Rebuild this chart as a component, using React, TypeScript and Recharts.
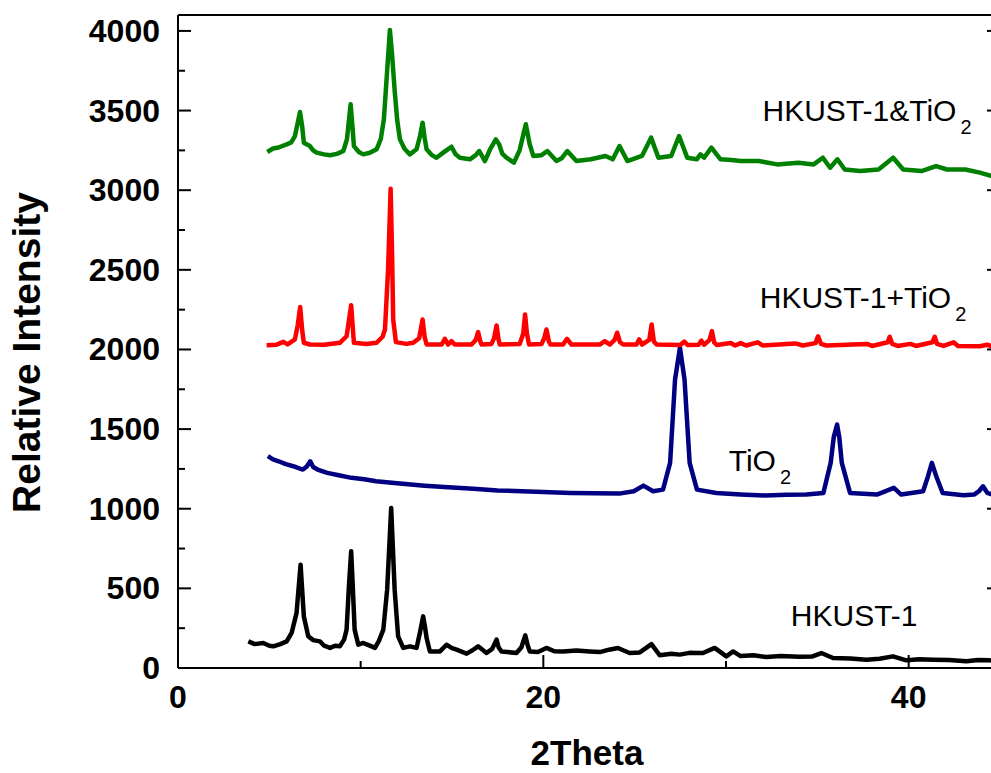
import { LineChart, Line, XAxis, YAxis, ReferenceDot } from "recharts";

// ---- axis ticks ----
const xTicks = [0, 10, 20, 30, 40];
const xTickLabels = [0, 20, 40];
const yTicks = [0, 250, 500, 750, 1000, 1250, 1500, 1750, 2000, 2250, 2500, 2750, 3000, 3250, 3500, 3750, 4000];
const yTickLabels = [0, 500, 1000, 1500, 2000, 2500, 3000, 3500, 4000];

// ---- XRD patterns, [2theta, intensity] ----
const hkust1: [number, number][] = [
  [3.85, 167], [4.2, 150], [4.67, 157], [5.0, 140], [5.22, 136], [5.6, 150], [5.95, 167], [6.22, 220],
  [6.49, 346], [6.71, 649], [6.89, 324], [7.13, 199], [7.4, 175], [7.77, 167], [8.0, 140], [8.32, 126],
  [8.6, 140], [8.86, 136], [9.1, 180], [9.23, 241], [9.35, 500], [9.48, 733], [9.58, 480], [9.67, 241],
  [9.87, 146], [10.14, 157], [10.5, 140], [10.78, 126], [11.0, 170], [11.24, 241], [11.45, 492], [11.67, 1005],
  [11.86, 492], [12.05, 199], [12.33, 126], [12.69, 136], [13.06, 126], [13.24, 220], [13.42, 324], [13.52, 260],
  [13.61, 188], [13.79, 104], [14.34, 104], [14.7, 146], [15.0, 125], [15.25, 115], [15.8, 90], [16.1, 110],
  [16.43, 136], [16.89, 94], [17.2, 120], [17.44, 178], [17.55, 130], [17.71, 104], [18.53, 94], [18.8, 130],
  [19.01, 205], [19.15, 140], [19.26, 104], [19.7, 100], [20.17, 126], [20.6, 105], [21.08, 104], [21.8, 110],
  [22.54, 104], [23.09, 100], [23.6, 115], [24.09, 126], [24.4, 110], [24.73, 94], [25.28, 98], [25.92, 150],
  [26.37, 80], [27.0, 90], [27.47, 84], [28.0, 95], [28.56, 94], [28.74, 94], [29.38, 126], [30.02, 73],
  [30.39, 104], [30.8, 75], [31.5, 80], [32.21, 69], [33.0, 75], [34.0, 70], [34.7, 72], [35.22, 94],
  [35.86, 63], [36.8, 60], [37.68, 52], [38.4, 58], [39.14, 73], [39.87, 48], [40.6, 55], [41.33, 52],
  [42.2, 50], [43.16, 42], [43.8, 50], [44.43, 48], [45, 45],
];

const tio2: [number, number][] = [
  [4.92, 1330], [5.2, 1310], [5.51, 1298], [5.9, 1280], [6.31, 1267], [6.6, 1255], [6.84, 1246], [7.05, 1265],
  [7.24, 1298], [7.4, 1262], [7.64, 1246], [8.17, 1225], [8.8, 1210], [9.5, 1194], [10.2, 1185], [10.84, 1173],
  [12.0, 1160], [13.5, 1145], [14.8, 1135], [16.16, 1125], [17.5, 1115], [18.82, 1110], [20.0, 1105], [21.48, 1099],
  [22.8, 1097], [24.15, 1095], [24.95, 1110], [25.48, 1145], [26.01, 1110], [26.55, 1120], [26.94, 1288], [27.21, 1811],
  [27.48, 2011], [27.73, 1811], [28.01, 1288], [28.41, 1120], [29.47, 1099], [30.8, 1090], [32.14, 1083], [33.3, 1088],
  [34.4, 1089], [35.33, 1099], [35.73, 1288], [35.9, 1450], [36.08, 1529], [36.2, 1450], [36.34, 1288], [36.79, 1099],
  [38.26, 1089], [39.19, 1131], [39.59, 1089], [40.79, 1110], [41.06, 1204], [41.27, 1288], [41.51, 1204], [41.86, 1099],
  [43.0, 1085], [43.58, 1089], [43.85, 1110], [44.07, 1141], [44.3, 1100], [44.6, 1089], [45, 1080],
];

const hkustPlusTio2: [number, number][] = [
  [4.85, 2027], [5.4, 2030], [5.77, 2048], [6.0, 2032], [6.4, 2063], [6.55, 2150], [6.69, 2266], [6.8, 2120],
  [6.89, 2042], [7.22, 2031], [8.0, 2030], [8.86, 2042], [9.23, 2083], [9.38, 2200], [9.48, 2278], [9.56, 2150],
  [9.63, 2042], [10.3, 2035], [10.87, 2042], [11.2, 2080], [11.33, 2125], [11.5, 2500], [11.64, 3009], [11.72, 2600],
  [11.78, 2188], [11.93, 2046], [12.5, 2035], [12.88, 2042], [13.2, 2070], [13.39, 2188], [13.5, 2080], [13.61, 2031],
  [14.43, 2031], [14.61, 2067], [14.79, 2031], [14.97, 2052], [15.15, 2031], [16.07, 2031], [16.3, 2060], [16.43, 2109],
  [16.55, 2050], [16.62, 2031], [17.16, 2035], [17.3, 2070], [17.44, 2151], [17.55, 2060], [17.62, 2031], [18.71, 2035],
  [18.9, 2100], [19.0, 2220], [19.1, 2100], [19.22, 2031], [19.9, 2035], [20.05, 2070], [20.17, 2125], [20.3, 2050],
  [20.39, 2031], [21.08, 2031], [21.3, 2067], [21.54, 2031], [23.09, 2031], [23.36, 2052], [23.64, 2031], [23.9, 2060],
  [24.04, 2105], [24.2, 2045], [24.37, 2031], [25.1, 2031], [25.25, 2063], [25.4, 2031], [25.8, 2060], [25.93, 2157],
  [26.05, 2050], [26.2, 2031], [27.5, 2028], [27.72, 2050], [27.9, 2028], [28.5, 2030], [28.65, 2055], [28.8, 2030],
  [29.1, 2060], [29.23, 2115], [29.35, 2045], [29.5, 2028], [30.26, 2040], [30.5, 2025], [30.8, 2040], [31.1, 2025],
  [31.74, 2045], [32.0, 2025], [33.8, 2038], [34.2, 2025], [34.9, 2040], [35.04, 2083], [35.2, 2035], [35.5, 2025],
  [37.72, 2035], [38.0, 2022], [38.85, 2045], [38.96, 2080], [39.1, 2035], [39.4, 2022], [40.09, 2035], [40.4, 2022],
  [41.3, 2045], [41.43, 2080], [41.55, 2035], [41.9, 2022], [42.46, 2045], [42.7, 2022], [43.9, 2020], [44.3, 2030],
  [44.6, 2018], [45, 2015],
];

const hkustAndTio2: [number, number][] = [
  [4.89, 3240], [5.2, 3262], [5.5, 3268], [5.95, 3288], [6.2, 3300], [6.4, 3340], [6.55, 3420], [6.68, 3491],
  [6.8, 3400], [6.89, 3298], [7.22, 3277], [7.4, 3250], [7.59, 3236], [8.0, 3225], [8.32, 3219], [8.7, 3228],
  [9.05, 3246], [9.25, 3320], [9.45, 3539], [9.55, 3400], [9.63, 3277], [9.9, 3240], [10.14, 3225], [10.5, 3235],
  [10.87, 3257], [11.1, 3320], [11.27, 3445], [11.45, 3750], [11.6, 4006], [11.72, 3850], [11.87, 3613], [12.0, 3440],
  [12.15, 3319], [12.4, 3260], [12.69, 3225], [13.06, 3257], [13.25, 3340], [13.39, 3424], [13.5, 3330], [13.61, 3257],
  [13.9, 3220], [14.15, 3204], [14.52, 3236], [14.75, 3255], [14.97, 3273], [15.2, 3225], [15.43, 3204], [15.98, 3194],
  [16.3, 3220], [16.49, 3246], [16.8, 3183], [17.1, 3260], [17.4, 3319], [17.58, 3288], [17.75, 3230], [17.98, 3204],
  [18.39, 3173], [18.7, 3250], [19.04, 3414], [19.25, 3290], [19.45, 3215], [19.9, 3220], [20.22, 3246], [20.72, 3183],
  [21.0, 3200], [21.31, 3246], [21.81, 3183], [22.6, 3194], [23.4, 3215], [23.8, 3194], [24.17, 3277], [24.6, 3183],
  [25.4, 3215], [25.9, 3330], [26.3, 3204], [27.0, 3215], [27.43, 3340], [27.88, 3204], [28.4, 3194], [28.6, 3225],
  [28.8, 3204], [29.2, 3267], [29.7, 3194], [30.3, 3190], [30.8, 3183], [31.8, 3183], [32.8, 3162], [33.96, 3173],
  [34.8, 3162], [35.3, 3204], [35.7, 3141], [36.1, 3194], [36.5, 3130], [37.35, 3120], [38.35, 3130], [39.15, 3204],
  [39.7, 3130], [40.7, 3120], [41.5, 3151], [42.1, 3130], [43.1, 3130], [43.9, 3110], [44.5, 3090], [45, 3085],
];

const FONT = '"Liberation Sans", Arial, Helvetica, sans-serif';
const MAJOR_LEN = 13;
const MINOR_LEN = 7;

const toRows = (pts: [number, number][]) => pts.map(([x, y]) => ({ x, y }));

const series = [
  { key: "hkust1", color: "#000000", rows: toRows(hkust1) },
  { key: "tio2", color: "#000080", rows: toRows(tio2) },
  { key: "plus", color: "#ff0000", rows: toRows(hkustPlusTio2) },
  { key: "and", color: "#008000", rows: toRows(hkustAndTio2) },
];

// text labels next to the curves, anchored in data coordinates
const curveLabels = [
  { text: "HKUST-1&TiO", sub: "2", x: 32.0, y: 3432 },
  { text: "HKUST-1+TiO", sub: "2", x: 31.85, y: 2258 },
  { text: "TiO", sub: "2", x: 30.15, y: 1235 },
  { text: "HKUST-1", sub: "", x: 33.55, y: 261 },
];

function LeftTick({ x, y, payload }: any) {
  const major = yTickLabels.includes(payload.value);
  return (
    <g>
      <line x1={x} y1={y} x2={x + (major ? MAJOR_LEN : MINOR_LEN)} y2={y} stroke="#000" strokeWidth={2} />
      {major && (
        <text x={x - 18} y={y + 11} textAnchor="end" fontFamily={FONT} fontWeight="bold" fontSize={32} fill="#000">
          {payload.value}
        </text>
      )}
    </g>
  );
}

function RightTick({ x, y, payload }: any) {
  const major = yTickLabels.includes(payload.value);
  return <line x1={x} y1={y} x2={x - (major ? MAJOR_LEN : MINOR_LEN)} y2={y} stroke="#000" strokeWidth={2} />;
}

function BottomTick({ x, y, payload }: any) {
  const major = xTickLabels.includes(payload.value);
  return (
    <g>
      <line x1={x} y1={y} x2={x} y2={y - (major ? MAJOR_LEN : MINOR_LEN)} stroke="#000" strokeWidth={2} />
      {major && (
        <text x={x} y={y + 40} textAnchor="middle" fontFamily={FONT} fontWeight="bold" fontSize={32} fill="#000">
          {payload.value}
        </text>
      )}
    </g>
  );
}

function TopTick({ x, y, payload }: any) {
  const major = xTickLabels.includes(payload.value);
  return <line x1={x} y1={y} x2={x} y2={y + (major ? MAJOR_LEN : MINOR_LEN)} stroke="#000" strokeWidth={2} />;
}

function XTitle({ viewBox }: any) {
  return (
    <text
      x={viewBox.x + viewBox.width / 2 - 2}
      y={viewBox.y + 97}
      textAnchor="middle"
      fontFamily={FONT}
      fontWeight="bold"
      fontSize={35}
      fill="#000"
    >
      2Theta
    </text>
  );
}

function YTitle({ viewBox }: any) {
  const cx = viewBox.x + 40;
  const cy = viewBox.y + viewBox.height / 2 + 11;
  return (
    <text
      x={cx}
      y={cy}
      transform={`rotate(-90 ${cx} ${cy})`}
      textAnchor="middle"
      fontFamily={FONT}
      fontWeight="bold"
      fontSize={39}
      fill="#000"
    >
      Relative Intensity
    </text>
  );
}

function CurveLabel({ viewBox, text, sub }: any) {
  return (
    <text x={viewBox.x} y={viewBox.y} fontFamily={FONT} fontSize={30} fill="#000">
      {text}
      {sub && (
        <tspan dx={4} dy={13} fontSize={20}>
          {sub}
        </tspan>
      )}
    </text>
  );
}

export default function App() {
  const axisLine = { stroke: "#000", strokeWidth: 2 };
  return (
    <div
      style={{
        position: "absolute",
        left: 0,
        top: 0,
        width: 991,
        height: 773,
        overflow: "hidden",
        background: "#fff",
      }}
    >
      <LineChart width={1010} height={773} margin={{ top: 14, right: 9, bottom: 0, left: 0 }}>
        <XAxis
          dataKey="x"
          type="number"
          domain={[0, 45]}
          ticks={xTicks}
          interval={0}
          allowDataOverflow
          height={105}
          tickSize={0}
          tickMargin={0}
          tickLine={false}
          axisLine={axisLine}
          tick={<BottomTick />}
          label={{ content: (p: any) => <XTitle {...p} /> }}
        />
        <XAxis
          xAxisId="top"
          orientation="top"
          type="number"
          domain={[0, 45]}
          ticks={xTicks}
          interval={0}
          allowDataOverflow
          height={1}
          tickSize={0}
          tickMargin={0}
          tickLine={false}
          axisLine={axisLine}
          tick={<TopTick />}
        />
        <YAxis
          type="number"
          domain={[0, 4100]}
          ticks={yTicks}
          interval={0}
          allowDataOverflow
          width={178}
          tickSize={0}
          tickMargin={0}
          tickLine={false}
          axisLine={axisLine}
          tick={<LeftTick />}
          label={{ content: (p: any) => <YTitle {...p} /> }}
        />
        <YAxis
          yAxisId="right"
          orientation="right"
          type="number"
          domain={[0, 4100]}
          ticks={yTicks}
          interval={0}
          allowDataOverflow
          width={1}
          tickSize={0}
          tickMargin={0}
          tickLine={false}
          axisLine={axisLine}
          tick={<RightTick />}
        />
        {series.map((s) => (
          <Line
            key={s.key}
            data={s.rows}
            dataKey="y"
            type="linear"
            stroke={s.color}
            strokeWidth={4.5}
            strokeLinejoin="round"
            dot={false}
            activeDot={false}
            isAnimationActive={false}
          />
        ))}
        {curveLabels.map((l) => (
          <ReferenceDot
            key={l.text}
            x={l.x}
            y={l.y}
            r={0}
            fill="none"
            stroke="none"
            label={{ content: (p: any) => <CurveLabel {...p} text={l.text} sub={l.sub} /> }}
          />
        ))}
      </LineChart>
    </div>
  );
}
